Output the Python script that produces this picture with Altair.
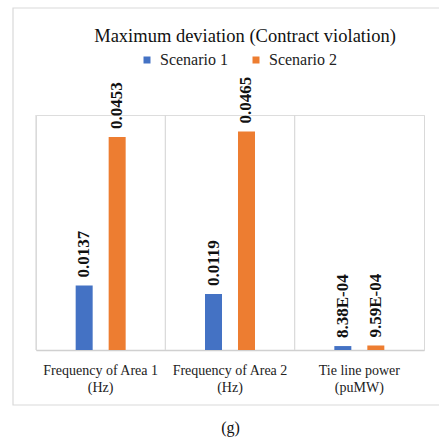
import altair as alt
import pandas as pd

SERIF = "Liberation Serif"

categories = ["Frequency of Area 1\n(Hz)", "Frequency of Area 2\n(Hz)", "Tie line power\n(puMW)"]
series = ["Scenario 1", "Scenario 2"]
scenario1 = [0.0137, 0.0119, 8.38e-4]
scenario2 = [0.0453, 0.0465, 9.59e-4]
colors = ["#4472C4", "#ED7D31"]


def fmt(v):
    return f"{v:.4f}" if v >= 1e-3 else f"{v:.2E}"


rows = []
for c, a, b in zip(categories, scenario1, scenario2):
    for s, v in zip(series, (a, b)):
        rows.append({"cat": c, "series": s, "value": v, "label": fmt(v)})
df = pd.DataFrame(rows)

x_axis = alt.Axis(
    title="(g)", labelExpr="split(datum.label, '\\n')", labelAngle=0,
    ticks=False, tickSize=0, labelPadding=13, labelLineHeight=17,
    labelFont=SERIF, labelFontSize=14, labelColor="#222",
    domainColor="#d0d0d0", domainWidth=1.5, grid=False,
    titleFont=SERIF, titleFontSize=16, titleFontWeight="normal",
    titleColor="#111", titlePadding=25,
)
x_scale = alt.Scale(paddingInner=0, paddingOuter=0)


def xenc(**kw):
    return alt.X("cat:N", sort=categories, scale=x_scale, axis=x_axis, **kw)


xo = alt.XOffset("series:N", sort=series, scale=alt.Scale(paddingInner=0, paddingOuter=0.96))
y = alt.Y("value:Q", scale=alt.Scale(domain=[0, 0.05]),
          axis=alt.Axis(orient="right", domain=True, domainColor="#d9d9d9",
                        labels=False, ticks=False, grid=False, title=None))

frame = alt.Chart(pd.DataFrame({"k": [0]})).mark_rect(
    fill="transparent", stroke="#d9d9d9", strokeWidth=1.2
).encode(x=alt.value(-23), x2=alt.value(430), y=alt.value(-107), y2=alt.value(290))

seps = alt.Chart(pd.DataFrame({"cat": categories})).mark_rule(
    color="#d9d9d9", strokeWidth=1.2
).encode(x=xenc(bandPosition=0))

bars = alt.Chart(df).mark_bar(width=17).encode(
    x=xenc(), xOffset=xo, y=y,
    color=alt.Color("series:N", sort=series,
                    scale=alt.Scale(domain=series, range=colors),
                    legend=alt.Legend(orient="none", legendX=103, legendY=-63,
                                      direction="horizontal", title=None,
                                      symbolType="square", symbolSize=49,
                                      symbolStrokeWidth=0, labelFont=SERIF,
                                      labelFontSize=16, labelColor="#222",
                                      columnPadding=20, labelOffset=5, padding=0)),
)

labels = alt.Chart(df).mark_text(
    angle=270, align="left", baseline="middle", dx=8,
    font=SERIF, fontSize=17, fontWeight="bold", color="#111"
).encode(x=xenc(), xOffset=xo, y=y, text="label:N")

chart = alt.layer(frame, seps, bars, labels).properties(
    width=388, height=235,
    title=alt.Title("Maximum deviation (Contract violation)", font=SERIF,
                    fontSize=18.5, fontWeight="normal", color="#111",
                    anchor="middle", dx=15, dy=46, offset=8),
    autosize=alt.AutoSizeParams(type="none"),
    padding={"left": 36, "top": 115, "right": 15, "bottom": 88},
).configure_view(stroke=None).configure(background="white", font=SERIF).configure_legend(
    labelFont=SERIF, labelFontSize=16
)

chart.save("out.html", embed_options={"renderer": "svg", "actions": False})
